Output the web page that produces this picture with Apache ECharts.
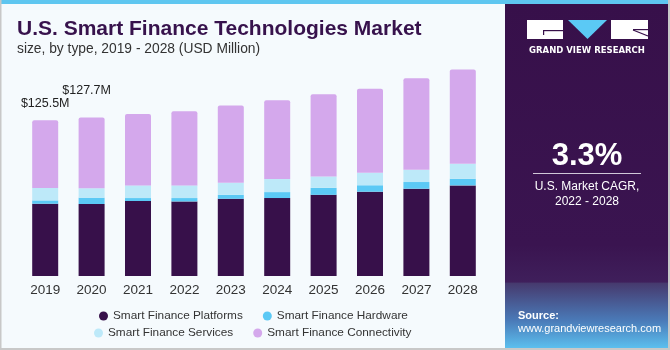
<!DOCTYPE html>
<html>
<head>
<meta charset="utf-8">
<script src="https://cdn.jsdelivr.net/npm/echarts@6/dist/echarts.min.js"></script>
<style>
  html, body { margin: 0; padding: 0; background: #f5fafd; }
  #chart { width: 670px; height: 350px; }
</style>
</head>
<body>
<div id="chart"></div>
<script>
// chart values (USD Million)
var years = ["2019", "2020", "2021", "2022", "2023", "2024", "2025", "2026", "2027", "2028"];
var platforms = [58.2, 58.0, 60.4, 60.1, 62.2, 62.8, 65.4, 67.9, 70.3, 73.0];
var hardware = [2.7, 5.1, 2.4, 2.7, 3.2, 4.8, 5.6, 5.2, 5.4, 5.3];
var services = [10.0, 7.6, 10.2, 10.2, 9.7, 10.5, 9.2, 10.1, 9.9, 12.1];
var connectivity = [54.6, 57.0, 57.6, 59.8, 62.3, 63.4, 66.3, 67.6, 73.6, 76.0];
var labelled = [0, 1]; // years with total shown

var names = ["Smart Finance Platforms", "Smart Finance Hardware", "Smart Finance Services", "Smart Finance Connectivity"];
var colors = ["#37104a", "#5bc9f5", "#bde9f9", "#d4a8ec"];

function total(i) {
  return platforms[i] + hardware[i] + services[i] + connectivity[i];
}

var chart = echarts.init(document.getElementById("chart"));

var labelDist = [10, 20];
var labelOff = [[0, 0], [-5, 0]];
var connData = connectivity.map(function (v, i) {
  if (labelled.indexOf(i) < 0) return v;
  return {
    value: v,
    label: {
      show: true,
      position: "top",
      distance: labelDist[i],
      offset: labelOff[i],
      formatter: "$" + total(i).toFixed(1) + "M",
      color: "#222",
      fontSize: 12.5,
      fontFamily: "Liberation Sans"
    }
  };
});

function bar(name, data, color, radius) {
  return {
    name: name,
    type: "bar",
    stack: "total",
    barWidth: 26,
    data: data,
    itemStyle: { color: color, borderRadius: radius || 0 },
    emphasis: { disabled: true }
  };
}

var legendText = { color: "#333", fontSize: 11.8, fontFamily: "Liberation Sans" };

var option = {
  backgroundColor: "#f5fafd",
  animation: false,
  grid: { left: 22, width: 464, top: 60, bottom: 74 },
  xAxis: {
    type: "category",
    data: years,
    axisLine: { show: false },
    axisTick: { show: false },
    axisLabel: { color: "#333", fontSize: 13.5, margin: 7, fontFamily: "Liberation Sans" }
  },
  yAxis: {
    type: "value",
    min: 0,
    max: 174,
    show: false,
    splitLine: { show: false }
  },
  legend: [
    {
      data: [names[0], names[1]],
      left: 94, top: 305,
      icon: "circle", itemWidth: 9, itemHeight: 9, itemGap: 20,
      textStyle: legendText, selectedMode: false
    },
    {
      data: [names[2], names[3]],
      left: 89, top: 322,
      icon: "circle", itemWidth: 9, itemHeight: 9, itemGap: 20,
      textStyle: legendText, selectedMode: false
    }
  ],
  series: [
    bar(names[0], platforms, colors[0]),
    bar(names[1], hardware, colors[1]),
    bar(names[2], services, colors[2]),
    bar(names[3], connData, colors[3], [2, 2, 0, 0])
  ],
  graphic: [
    // frame
    { type: "rect", shape: { x: 0, y: 0, width: 670, height: 4 }, style: { fill: "#5ec6f0" } },
    { type: "rect", shape: { x: 0, y: 0, width: 1.5, height: 350 }, style: { fill: "#c8c8c8" } },
    { type: "rect", shape: { x: 0, y: 348, width: 670, height: 2 }, style: { fill: "#c8c8c8" } },
    { type: "rect", shape: { x: 668, y: 0, width: 2, height: 350 }, style: { fill: "#c8c8c8" } },
    // title
    {
      type: "text", x: 17, y: 29,
      style: { text: "U.S. Smart Finance Technologies Market", fill: "#37124c", font: "bold 21px 'Liberation Sans'", verticalAlign: "middle" }
    },
    {
      type: "text", x: 17, y: 49,
      style: { text: "size, by type, 2019 - 2028 (USD Million)", fill: "#333", font: "13.8px 'Liberation Sans'", verticalAlign: "middle" }
    },
    // right panel
    {
      type: "rect", shape: { x: 505, y: 4, width: 163, height: 344 },
      style: {
        fill: new echarts.graphic.LinearGradient(0, 0, 0, 1, [
          { offset: 0, color: "#37104a" },
          { offset: 0.7, color: "#3a1450" },
          { offset: 0.808, color: "#3f1f5b" },
          { offset: 0.812, color: "#463a6e" },
          { offset: 0.92, color: "#4a7ab8" },
          { offset: 1, color: "#5cbfee" }
        ])
      }
    },
    // logo
    { type: "rect", shape: { x: 527, y: 20, width: 36, height: 19 }, style: { fill: "#fff" } },
    { type: "rect", shape: { x: 543, y: 30, width: 20, height: 1.2 }, style: { fill: "#37104a" } },
    { type: "rect", shape: { x: 543, y: 30, width: 1.2, height: 5 }, style: { fill: "#37104a" } },
    { type: "polygon", shape: { points: [[568, 20], [607, 20], [587.5, 39]] }, style: { fill: "#5bc9f5" } },
    { type: "rect", shape: { x: 611, y: 20, width: 37, height: 19 }, style: { fill: "#fff" } },
    { type: "polyline", shape: { points: [[633, 30], [648, 36]] }, style: { stroke: "#37104a", lineWidth: 1.2 } },
    { type: "rect", shape: { x: 633, y: 29, width: 15, height: 1.2 }, style: { fill: "#37104a" } },
    {
      type: "text", x: 587, y: 51,
      style: { text: "GRAND VIEW RESEARCH", fill: "#fff", font: "bold 8.5px 'DejaVu Sans'", align: "center", verticalAlign: "middle" }
    },
    {
      type: "text", x: 587, y: 156,
      style: { text: "3.3%", fill: "#fff", font: "bold 31px 'Liberation Sans'", align: "center", verticalAlign: "middle" }
    },
    { type: "rect", shape: { x: 533, y: 173, width: 108, height: 1 }, style: { fill: "#d0c8d8" } },
    {
      type: "text", x: 587, y: 187,
      style: { text: "U.S. Market CAGR,", fill: "#fff", font: "12px 'Liberation Sans'", align: "center", verticalAlign: "middle" }
    },
    {
      type: "text", x: 587, y: 202,
      style: { text: "2022 - 2028", fill: "#fff", font: "12px 'Liberation Sans'", align: "center", verticalAlign: "middle" }
    },
    {
      type: "text", x: 518, y: 316,
      style: { text: "Source:", fill: "#fff", font: "bold 11px 'Liberation Sans'", verticalAlign: "middle" }
    },
    {
      type: "text", x: 518, y: 329,
      style: { text: "www.grandviewresearch.com", fill: "#fff", font: "11px 'Liberation Sans'", verticalAlign: "middle" }
    }
  ]
};

chart.setOption(option);
</script>
</body>
</html>
